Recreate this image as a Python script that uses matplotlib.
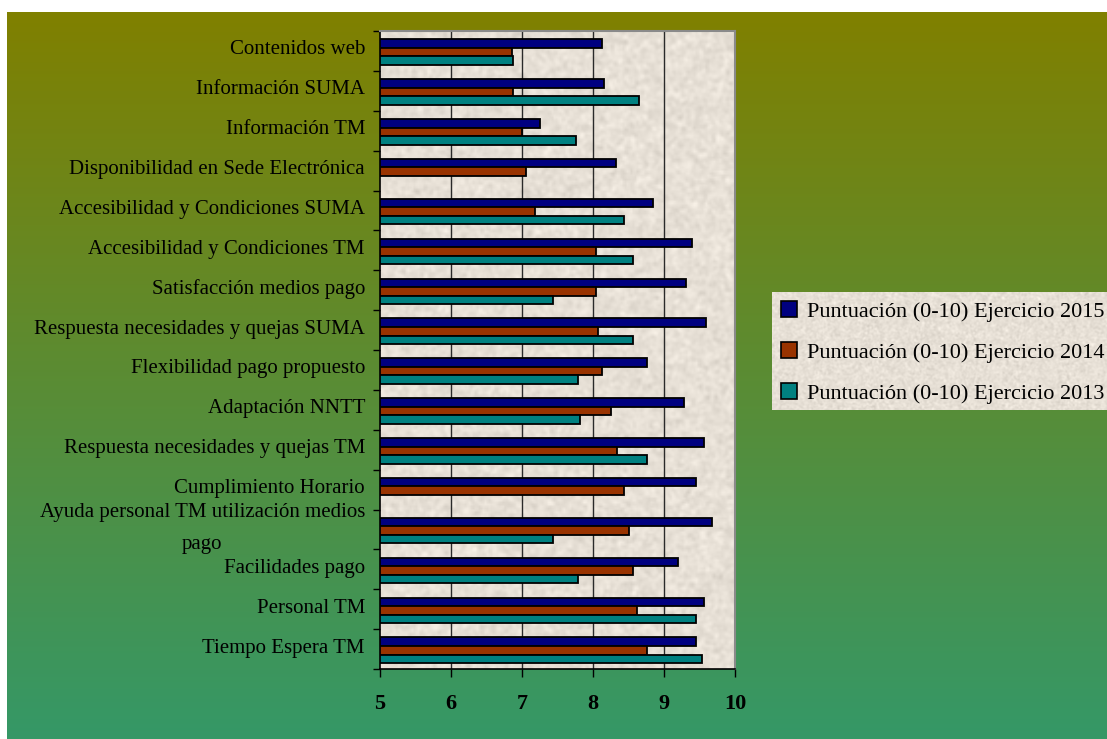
import numpy as np
import matplotlib
matplotlib.use("Agg")
import matplotlib.pyplot as plt
from matplotlib.colors import LinearSegmentedColormap, to_rgb
from matplotlib.patches import Patch
from matplotlib.transforms import ScaledTranslation, blended_transform_factory

# --- data -------------------------------------------------------------
categories = [
    "Contenidos web",
    "Información SUMA",
    "Información TM",
    "Disponibilidad en Sede Electrónica",
    "Accesibilidad y Condiciones SUMA",
    "Accesibilidad y Condiciones TM",
    "Satisfacción medios pago",
    "Respuesta necesidades y quejas SUMA",
    "Flexibilidad pago propuesto",
    "Adaptación NNTT",
    "Respuesta necesidades y quejas TM",
    "Cumplimiento Horario",
    "Ayuda personal TM utilización medios\npago",
    "Facilidades pago",
    "Personal TM",
    "Tiempo Espera TM",
]
score_2015 = [8.13, 8.16, 7.25, 8.32, 8.84, 9.40, 9.31, 9.59,
              8.76, 9.28, 9.57, 9.45, 9.67, 9.20, 9.57, 9.45]
score_2014 = [6.86, 6.88, 7.00, 7.05, 7.19, 8.04, 8.04, 8.07,
              8.12, 8.26, 8.34, 8.43, 8.51, 8.57, 8.62, 8.76]
score_2013 = [6.88, 8.65, 7.76, None, 8.43, 8.57, 7.43, 8.57,
              7.79, 7.82, 8.76, None, 7.43, 7.79, 9.45, 9.53]
series_labels = ["Puntuación (0-10) Ejercicio 2015",
                 "Puntuación (0-10) Ejercicio 2014",
                 "Puntuación (0-10) Ejercicio 2013"]
x_ticks = [5, 6, 7, 8, 9, 10]

# --- styling ----------------------------------------------------------
W, H = 1107, 739
DPI = 100
series_colors = ["#000080", "#993300", "#008080"]
panel_color = "#E7E0D6"
serif = ["Liberation Serif", "DejaVu Serif"]

fig = plt.figure(figsize=(W / DPI, H / DPI), dpi=DPI, facecolor="white")

# vertical olive -> green gradient behind everything
bg = fig.add_axes([7 / W, 0, 1 - 7 / W, 1 - 12 / H], zorder=-10)
grad_cmap = LinearSegmentedColormap.from_list("bg", ["#359867", "#808000"])
bg.imshow(np.linspace(0, 1, 256).reshape(-1, 1), aspect="auto",
          cmap=grad_cmap, origin="lower", extent=[0, 1, 0, 1])
bg.set_axis_off()


def paper_texture(rows, cols, seed):
    """Fine grainy paper texture around the panel colour."""
    rng = np.random.default_rng(seed)
    noise = rng.normal(0, 1, (rows, cols))
    ky = np.fft.fftfreq(rows)[:, None]
    kx = np.fft.fftfreq(cols)[None, :]
    smooth = np.real(np.fft.ifft2(np.fft.fft2(noise) *
                                  np.exp(-(kx ** 2 + ky ** 2) / 0.08)))
    smooth = (smooth - smooth.mean()) / smooth.std()
    base = np.array(to_rgb(panel_color))
    return np.clip(base[None, None, :] + 0.02 * smooth[..., None], 0, 1)


# plot panel
left, right, top, bottom = 380, 735, 31, 669
ax = fig.add_axes([left / W, 1 - bottom / H, (right - left) / W, (bottom - top) / H])
ax.imshow(paper_texture(320, 180, 7), aspect="auto",
          extent=[5, 10, 15.5, -0.5], zorder=0, interpolation="bilinear")

n = len(categories)
y = np.arange(n)
h = 0.215
offsets = [-h, 0.0, h]
shift = 0.03
for vals, off, col, lab in zip([score_2015, score_2014, score_2013],
                               offsets, series_colors, series_labels):
    yy = [yi + off + shift for yi, v in zip(y, vals) if v is not None]
    ww = [v - 5 for v in vals if v is not None]
    ax.barh(yy, ww, left=5, height=h, color=col, edgecolor="black",
            linewidth=1.3, zorder=3, label=lab)

ax.set_xlim(5, 10)
ax.set_ylim(n - 0.5, -0.5)
ax.set_xticks(x_ticks)
ax.set_xticklabels([str(t) for t in x_ticks], fontsize=16, fontweight="bold",
                   family=serif)
for xv in x_ticks[1:-1]:
    ax.axvline(xv, color="#2a2a2a", linewidth=1.0, zorder=1)

# category labels: right-aligned left of the axis
ax.set_yticks(y)
ax.set_yticklabels([])
label_tf = (blended_transform_factory(ax.transAxes, ax.transData)
            + ScaledTranslation(-15 / DPI, 1 / DPI, fig.dpi_scale_trans))
for yi, name in zip(y, categories):
    ax.text(0, yi, name, transform=label_tf, ha="right", va="center",
            multialignment="center", linespacing=1.9, fontsize=15,
            family=serif, color="black", clip_on=False)
ax.set_yticks(np.arange(n + 1) - 0.5, minor=True)
ax.tick_params(axis="y", which="major", length=0)
ax.tick_params(axis="y", which="minor", length=5, width=1.0, direction="out")
ax.tick_params(axis="x", which="major", length=6, width=1.0, direction="out",
               pad=12)

for s in ["top", "right"]:
    ax.spines[s].set_color("#8a8a8a")
    ax.spines[s].set_linewidth(1.5)
for s in ["left", "bottom"]:
    ax.spines[s].set_color("black")
    ax.spines[s].set_linewidth(1.2)

# legend panel, running off the right edge of the figure
leg_ax = fig.add_axes([772 / W, 1 - 410 / H, (W - 772) / W + 0.01, 118 / H],
                      zorder=2)
leg_ax.imshow(paper_texture(120, 340, 11), aspect="auto",
              extent=[0, 1, 0, 1], interpolation="bilinear")
leg_ax.set_xlim(0, 1)
leg_ax.set_ylim(0, 1)
leg_ax.set_axis_off()

handles = [Patch(facecolor=c, edgecolor="black", linewidth=1.2)
           for c in series_colors]
leg = leg_ax.legend(handles, series_labels, loc="upper left",
                    bbox_to_anchor=(0.0, 1.0), frameon=False,
                    borderaxespad=0, borderpad=0.42,
                    handlelength=0.7, handleheight=0.7, handletextpad=0.45,
                    labelspacing=0.92, prop={"family": serif, "size": 16})

fig.savefig("out.png", dpi=DPI, facecolor="white")
